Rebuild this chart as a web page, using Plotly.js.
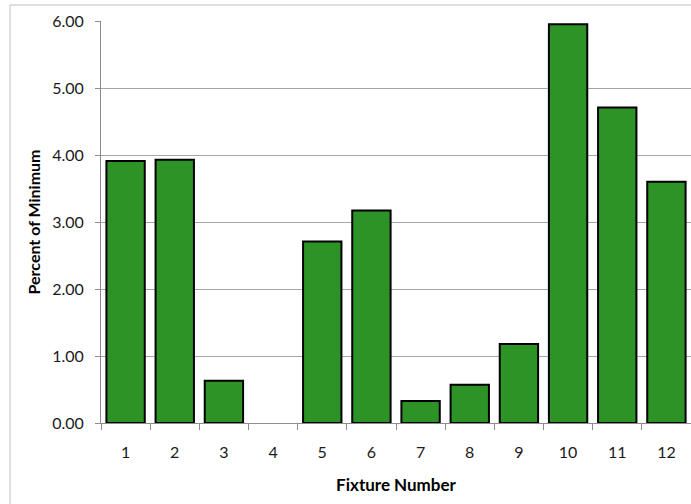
<!DOCTYPE html>
<html>
<head>
<meta charset="utf-8">
<script src="https://cdn.plot.ly/plotly-3.0.1.min.js"></script>
<style>
  html, body { margin: 0; padding: 0; background: #ffffff; }
  #chart { width: 691px; height: 504px; }
</style>
</head>
<body>
<div id="chart"></div>
<script>
// Fixture numbers and their percent of minimum
const fixtures = ['1', '2', '3', '4', '5', '6', '7', '8', '9', '10', '11', '12'];
const percentOfMinimum = [3.91, 3.93, 0.63, 0.00, 2.71, 3.17, 0.33, 0.57, 1.18, 5.95, 4.71, 3.60];

const yTickValues = [0, 1, 2, 3, 4, 5, 6];

const font = 'Lato, "Open Sans", sans-serif';

// empty fixtures get no outline so no stray line sits on the axis
const outlineWidths = percentOfMinimum.map(v => (v === 0 ? 0 : 2));

const trace = {
  type: 'bar',
  x: fixtures,
  y: percentOfMinimum,
  marker: {
    color: '#2d9327',
    line: { color: '#000000', width: outlineWidths }
  },
  hoverinfo: 'x+y'
};

const layout = {
  width: 691,
  height: 504,
  margin: { l: 101, r: 0, t: 21, b: 81 },
  paper_bgcolor: '#ffffff',
  plot_bgcolor: '#ffffff',
  bargap: 0.22,
  showlegend: false,
  font: { family: font, size: 15, color: '#1a1a1a' },
  xaxis: {
    type: 'category',
    tickson: 'boundaries',
    ticks: 'outside',
    ticklen: 6,
    tickcolor: '#8c8c8c',
    showline: true,
    linecolor: '#8c8c8c',
    linewidth: 1,
    showgrid: false,
    ticklabelstandoff: 15,
    tickfont: { family: font, size: 16, color: '#1a1a1a' },
    title: {
      text: 'Fixture Number',
      font: { family: font, size: 17, color: '#000000', weight: 'bold' },
      standoff: 18
    }
  },
  yaxis: {
    range: [0, 6],
    tickvals: yTickValues,
    tickformat: '.2f',
    ticks: 'outside',
    ticklen: 5,
    tickcolor: '#8c8c8c',
    showline: true,
    linecolor: '#8c8c8c',
    linewidth: 1,
    showgrid: true,
    gridcolor: '#a6a6a6',
    gridwidth: 1,
    zeroline: false,
    ticklabelstandoff: 8,
    tickfont: { family: font, size: 16, color: '#1a1a1a' },
    title: {
      text: 'Percent of Minimum',
      font: { family: font, size: 16, color: '#000000', weight: 'bold' },
      standoff: 7
    }
  },
  shapes: [
    {
      // outer chart frame
      type: 'rect',
      xref: 'paper', yref: 'paper',
      x0: -0.1542, x1: 1.02,
      y0: -0.3, y1: 1.0398,
      line: { color: '#c0c0c0', width: 1 },
      fillcolor: 'rgba(0,0,0,0)',
      layer: 'below'
    }
  ]
};

Plotly.newPlot('chart', [trace], layout, { displayModeBar: false, staticPlot: true });
</script>
</body>
</html>
